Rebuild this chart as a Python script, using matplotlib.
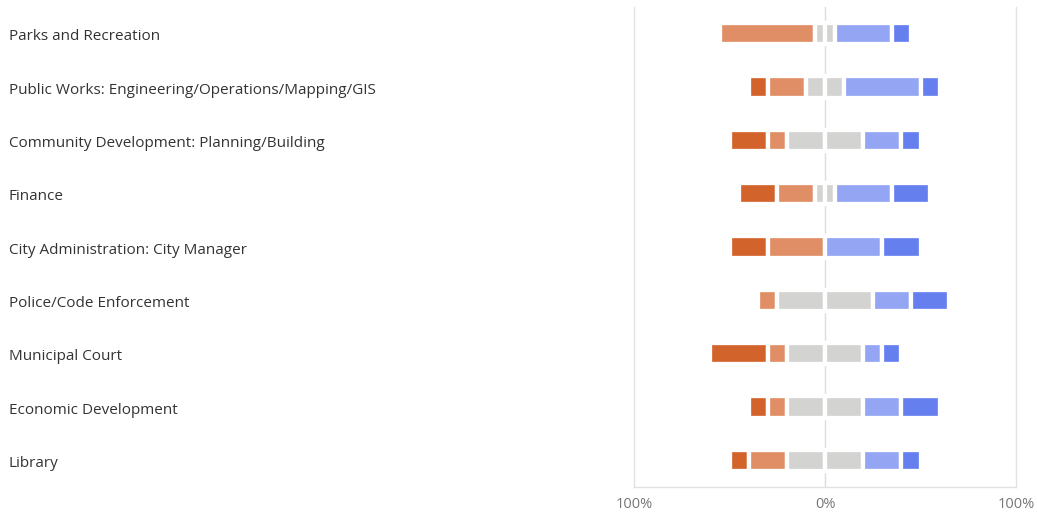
import matplotlib
matplotlib.use("Agg")
import numpy as np
import matplotlib.pyplot as plt
import matplotlib.transforms as mtransforms

# --- data (percent of responses) ---
categories = [
    "Parks and Recreation",
    "Public Works: Engineering/Operations/Mapping/GIS",
    "Community Development: Planning/Building",
    "Finance",
    "City Administration: City Manager",
    "Police/Code Enforcement",
    "Municipal Court",
    "Economic Development",
    "Library",
]
strongly_neg = [0, 10, 20, 20, 20, 0, 30, 10, 10]
neg = [50, 20, 10, 20, 30, 10, 10, 10, 20]
neutral = [10, 20, 40, 10, 0, 50, 40, 40, 40]
pos = [30, 40, 20, 30, 30, 20, 10, 20, 20]
strongly_pos = [10, 10, 10, 20, 20, 20, 10, 20, 10]

tick_vals = [-100, 0, 100]
tick_labels = ["100%", "0%", "100%"]

colors = ["#D2632A", "#E08E66", "#D3D3D1", "#D3D3D1", "#93A5F3", "#667FEF"]

plt.rcParams['font.family'] = ['Open Sans', 'DejaVu Sans']

fig = plt.figure(figsize=(10.37, 5.14), dpi=100)
ax = fig.add_axes([634 / 1037, 1 - 487 / 514, (1016 - 634) / 1037, (487 - 7) / 514])

y = np.arange(len(categories))
sn = np.array(strongly_neg, dtype=float)
ng = np.array(neg, dtype=float)
nt = np.array(neutral, dtype=float)
ps = np.array(pos, dtype=float)
sp = np.array(strongly_pos, dtype=float)

# segments from left to right, neutral split around zero
segments = [sn, ng, nt / 2, nt / 2, ps, sp]
left = -(sn + ng + nt / 2)
bar_h = 0.40
for seg, col in zip(segments, colors):
    mask = seg > 0
    ax.barh(y[mask], seg[mask], left=left[mask], height=bar_h, color=col,
            edgecolor="white", linewidth=3.1, zorder=3)
    left = left + seg

ax.axvline(0, color="#dcdcdc", lw=1, zorder=1)

ax.set_xlim(-100, 100)
ax.set_ylim(len(categories) - 0.5, -0.5)
ax.set_xticks(tick_vals)
ax.set_xticklabels(tick_labels)
ax.tick_params(axis="x", length=0, pad=7, labelsize=10.5, labelcolor="#777777")
ax.set_yticks([])

for side in ["left", "right", "bottom"]:
    ax.spines[side].set_color("#e2e2e2")
    ax.spines[side].set_linewidth(1)
ax.spines["top"].set_visible(False)

# category labels at the far left of the figure
trans = mtransforms.blended_transform_factory(fig.transFigure, ax.transData)
trans = mtransforms.offset_copy(trans, fig=fig, y=-3, units="dots")
for yi, name in zip(y, categories):
    ax.text(9 / 1037, yi, name, transform=trans, ha="left", va="center",
            fontsize=11, color="#333333", clip_on=False)

fig.savefig("out.png", dpi=100)
